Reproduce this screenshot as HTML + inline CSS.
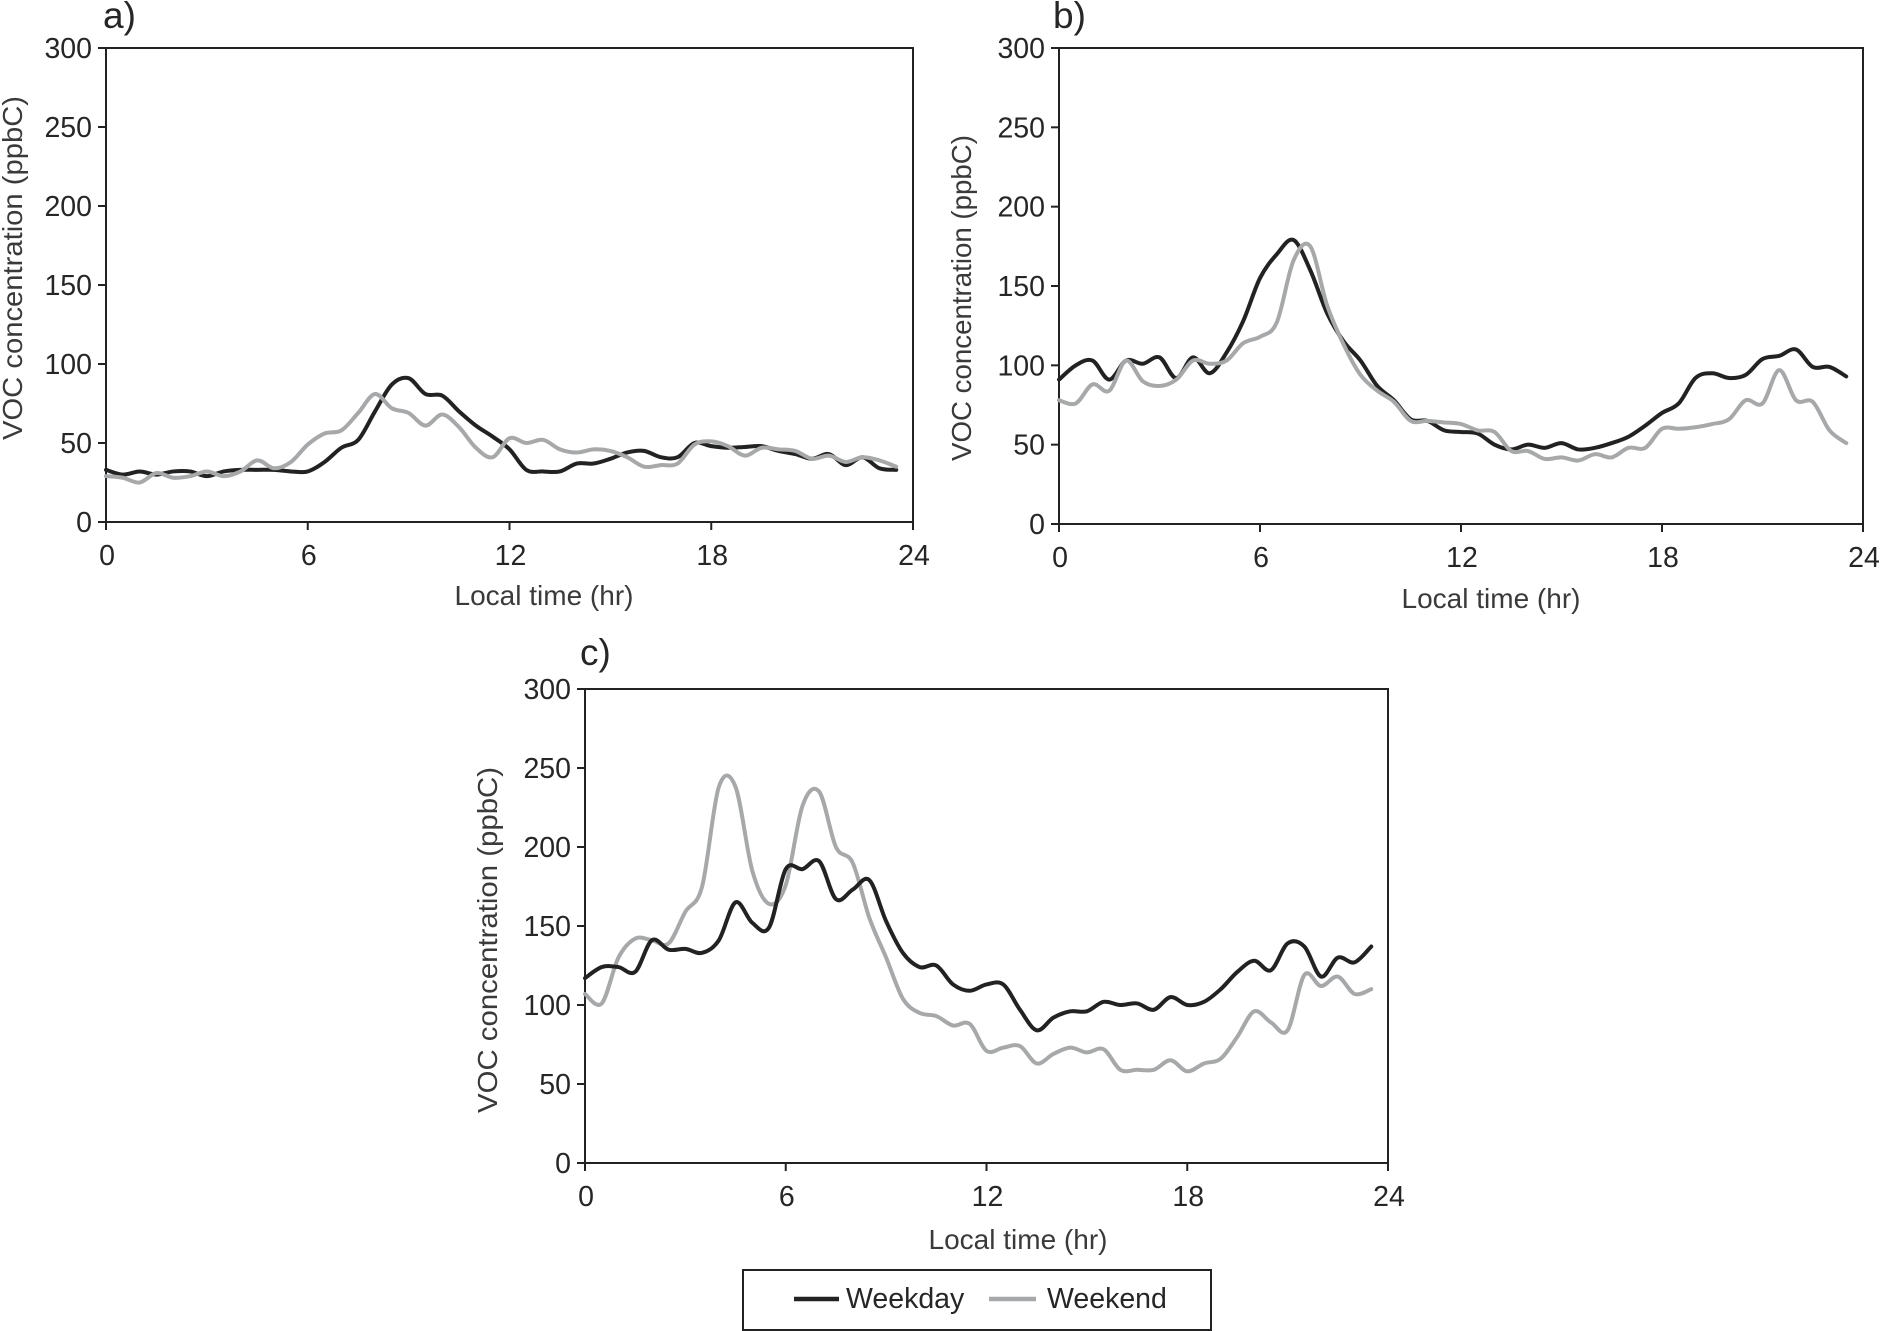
<!DOCTYPE html>
<html lang="en">
<head>
<meta charset="utf-8">
<title>VOC concentration by local time</title>
<style>
  html, body { margin: 0; padding: 0; background: #fff; }
  body { width: 1882px; height: 1331px; overflow: hidden; }
  svg { display: block; }
  text { font-family: "Liberation Sans", Arial, sans-serif; fill: #262626; }
  .tick { font-size: 28.5px; }
  .title { font-size: 28px; fill: #3a3a3a; }
  .panel { font-size: 37px; }
  .legend-text { font-size: 28.5px; }
</style>
</head>
<body>
<svg id="chart" xmlns="http://www.w3.org/2000/svg" width="1882" height="1331" viewBox="0 0 1882 1331">
  <g id="legend">
    <rect x="743" y="1270" width="468" height="60" fill="#fff" stroke="#222" stroke-width="2"/>
    <line x1="794" x2="839" y1="1299" y2="1299" stroke="#222" stroke-width="4.5"/>
    <text class="legend-text" x="846" y="1308">Weekday</text>
    <line x1="989" x2="1036" y1="1299" y2="1299" stroke="#a6a8aa" stroke-width="4.5"/>
    <text class="legend-text" x="1047" y="1308">Weekend</text>
  </g>
</svg>
<script>
const hours = [0,0.5,1,1.5,2,2.5,3,3.5,4,4.5,5,5.5,6,6.5,7,7.5,8,8.5,9,9.5,10,10.5,11,11.5,12,12.5,13,13.5,14,14.5,15,15.5,16,16.5,17,17.5,18,18.5,19,19.5,20,20.5,21,21.5,22,22.5,23,23.5];
const xTickLabels = [0,6,12,18,24];
const yTickLabels = [0,50,100,150,200,250,300];

const weekdayA = [33,30,32,30,32,32,29,32,33,33,33,32,32,38,47,52,70,87,91,81,80,70,61,54,46,33,32,32,37,37,40,44,45,41,41,50,48,47,47.5,48,45,43,40,43,36,41,34,33];
const weekendA = [29,28,25,31,28,29,32,29,32,39,34,38,49,56,58,69,81,72,69,61,68,60,47,41,53,50,52,46,44,46,45,41,35,36,37,49,51,48,42,47,46,45,40,42,38,41,39,35];

const weekdayB = [91,100,103,91,103,101,105,92,105,95,108,128,155,170,179,160,133,115,103,87,78,66,65,59,58,57,50,47,50,48,51,47,48,51,55,62,70,76,92,95,92,94,104,106,110,99,99,93];
const weekendB = [78,76,88,84,103,90,87,91,103,101,103,114,118,127,166,175,138,113,94,84,77,65,65,64,63,59,58,46,46,41,42,40,44,42,48,48,60,60,61,63,66,78,76,97,78,77,59,51];

const weekdayC = [117,124,124,121,141,135,135.5,133,141,165,152,149,186,186,191,167,173,179,153,133,124,125,113,109,113,113,97,84,92,96,96,102,100,101,97,105,100,102,110,121,128,122,139,137,118,130,127,137];
const weekendC = [107,101,130,142,141,139,159,175,238,238,185,164,176,226,235,200,190,155,130,104,95,93,87,88,71,73,74,63,69,73,70,72,59,59,59,65,58,63,66,80,96,89,84,119,112,118,107,110];

const SVG_NS = 'http://www.w3.org/2000/svg';
const root = document.getElementById('chart');

function make(parent, tag, attrs, txt) {
  const el = document.createElementNS(SVG_NS, tag);
  for (const k in attrs) el.setAttribute(k, attrs[k]);
  if (txt !== undefined) el.textContent = txt;
  parent.appendChild(el);
  return el;
}

function smoothPath(xs, ys) {
  let d = 'M' + xs[0].toFixed(2) + ' ' + ys[0].toFixed(2);
  for (let i = 0; i < xs.length - 1; i++) {
    const i0 = Math.max(i - 1, 0), i3 = Math.min(i + 2, xs.length - 1);
    const c1x = xs[i] + (xs[i + 1] - xs[i0]) / 6, c1y = ys[i] + (ys[i + 1] - ys[i0]) / 6;
    const c2x = xs[i + 1] - (xs[i3] - xs[i]) / 6, c2y = ys[i + 1] - (ys[i3] - ys[i]) / 6;
    d += 'C' + c1x.toFixed(2) + ' ' + c1y.toFixed(2) + ' ' + c2x.toFixed(2) + ' ' + c2y.toFixed(2) + ' ' + xs[i + 1].toFixed(2) + ' ' + ys[i + 1].toFixed(2);
  }
  return d;
}

function drawPanel(p, weekday, weekend) {
  const xScale = h => p.left + (p.right - p.left) * h / 24;
  const yScale = v => p.bottom - (p.bottom - p.top) * v / 300;

  const g = make(root, 'g', {});
  
  

  const label = make(g, 'text', { class: 'panel', x: p.labelX, y: p.labelY }, p.id + ')');
  
  

  const frame = make(g, 'rect', { x: p.left, y: p.top, width: p.right - p.left, height: p.bottom - p.top, fill: 'none', stroke: '#222', 'stroke-width': 2 });
  
  

  yTickLabels.forEach(v => {
    const y = yScale(v);
    const tick = make(g, 'line', { x1: p.left - 8, x2: p.left, y1: y, y2: y, stroke: '#222', 'stroke-width': 2 });
    
    
    const t = make(g, 'text', { class: 'tick', x: p.left - 14, y: y + 10, 'text-anchor': 'end' }, v);
    
    
  });

  xTickLabels.forEach(h => {
    const x = xScale(h);
    const tick = make(g, 'line', { x1: x, x2: x, y1: p.bottom, y2: p.bottom + 8, stroke: '#222', 'stroke-width': 2 });
    
    
    const t = make(g, 'text', { class: 'tick', x: x + 1, y: p.bottom + 43, 'text-anchor': 'middle' }, h);
    
    
  });

  const xt = make(g, 'text', { class: 'title', x: p.xTitleX, y: p.xTitleY, 'text-anchor': 'middle' }, 'Local time (hr)');
  
  

  const yt = make(g, 'text', {
    class: 'title', 'text-anchor': 'middle',
    transform: 'translate(' + p.yTitleX + ' ' + p.yTitleY + ') rotate(-90)',
    textLength: p.yTitleLen, lengthAdjust: 'spacingAndGlyphs'
  }, 'VOC concentration (ppbC)');
  
  

  const xs = hours.map(xScale);

  const grey = make(g, 'path', { d: smoothPath(xs, weekend.map(yScale)), fill: 'none', stroke: '#a6a8aa', 'stroke-width': 4, 'stroke-linejoin': 'round', 'stroke-linecap': 'round' });
  
  

  const dark = make(g, 'path', { d: smoothPath(xs, weekday.map(yScale)), fill: 'none', stroke: '#222', 'stroke-width': 4, 'stroke-linejoin': 'round', 'stroke-linecap': 'round' });
  
  

  if (p.id !== 'c') g.insertBefore(dark, grey);
}

drawPanel({ id: 'a', left: 106, right: 913, top: 48, bottom: 522, labelX: 103, labelY: 28, xTitleX: 544, xTitleY: 605, yTitleX: 22, yTitleY: 268, yTitleLen: 344 }, weekdayA, weekendA);
drawPanel({ id: 'b', left: 1059, right: 1863, top: 48, bottom: 524, labelX: 1053, labelY: 28, xTitleX: 1491, xTitleY: 608, yTitleX: 971, yTitleY: 298, yTitleLen: 326 }, weekdayB, weekendB);
drawPanel({ id: 'c', left: 585, right: 1388, top: 689, bottom: 1163, labelX: 580, labelY: 665, xTitleX: 1018, xTitleY: 1249, yTitleX: 497, yTitleY: 940, yTitleLen: 346 }, weekdayC, weekendC);
</script>
</body>
</html>
